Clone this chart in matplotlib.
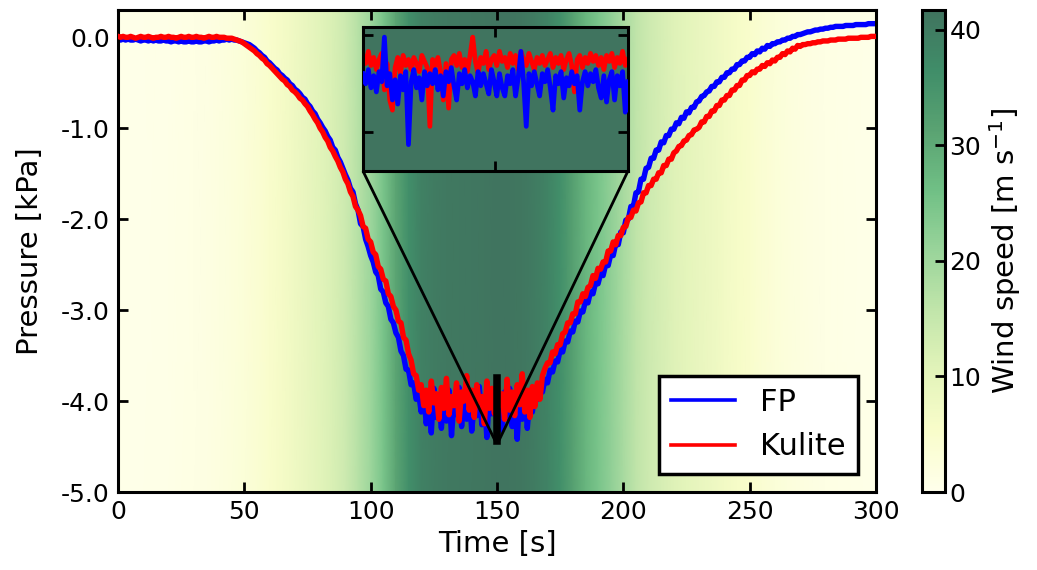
import numpy as np
import matplotlib.pyplot as plt
from matplotlib.colors import ListedColormap
from matplotlib.ticker import FormatStrFormatter
from mpl_toolkits.axes_grid1.inset_locator import mark_inset

plt.rcParams['axes.unicode_minus'] = False

# FP pressure [kPa], one value per second, t = 0..300 s
fp = [
    -0.02, -0.03, -0.02, -0.03, -0.02, -0.03, -0.03, -0.02, -0.03, -0.04,   # 0
    -0.03, -0.03, -0.04, -0.03, -0.04, -0.03, -0.04, -0.04, -0.03, -0.04,   # 10
    -0.04, -0.05, -0.04, -0.04, -0.05, -0.04, -0.05, -0.05, -0.04, -0.05,   # 20
    -0.05, -0.04, -0.05, -0.05, -0.04, -0.04, -0.05, -0.04, -0.04, -0.03,   # 30
    -0.04, -0.03, -0.03, -0.02, -0.03, -0.02, -0.03, -0.03, -0.04, -0.05,   # 40
    -0.06, -0.07, -0.08, -0.10, -0.12, -0.15, -0.17, -0.20, -0.22, -0.26,   # 50
    -0.28, -0.31, -0.34, -0.36, -0.40, -0.42, -0.45, -0.47, -0.51, -0.53,   # 60
    -0.57, -0.59, -0.62, -0.66, -0.68, -0.73, -0.76, -0.81, -0.84, -0.90,   # 70
    -0.94, -0.99, -1.03, -1.09, -1.13, -1.21, -1.24, -1.32, -1.37, -1.44,   # 80
    -1.51, -1.57, -1.66, -1.70, -1.83, -1.90, -2.05, -2.08, -2.22, -2.30,   # 90
    -2.40, -2.47, -2.58, -2.62, -2.77, -2.80, -2.92, -2.96, -3.10, -3.14,   # 100
    -3.25, -3.30, -3.45, -3.50, -3.65, -3.66, -3.82, -3.80, -3.98, -3.92,   # 110
    -4.12, -3.90, -4.25, -3.98, -4.35, -3.86, -4.18, -4.02, -4.30, -3.92,   # 120
    -4.22, -3.88, -4.38, -4.00, -4.15, -3.85, -4.28, -3.96, -4.20, -3.90,   # 130
    -4.33, -4.02, -4.16, -3.84, -4.26, -3.98, -4.40, -3.93, -4.14, -3.88,   # 140
    -4.24, -4.00, -4.32, -3.90, -4.18, -3.86, -4.28, -3.97, -4.42, -3.92,   # 150
    -4.20, -3.88, -4.30, -3.95, -4.12, -3.90, -3.98, -3.84, -3.90, -3.76,   # 160
    -3.80, -3.66, -3.68, -3.56, -3.57, -3.44, -3.46, -3.34, -3.35, -3.23,   # 170
    -3.24, -3.12, -3.13, -3.01, -3.02, -2.90, -2.92, -2.80, -2.82, -2.70,   # 180
    -2.71, -2.60, -2.62, -2.50, -2.51, -2.39, -2.40, -2.27, -2.28, -2.14,   # 190
    -2.15, -2.01, -2.00, -1.86, -1.86, -1.71, -1.70, -1.56, -1.56, -1.44,   # 200
    -1.43, -1.33, -1.33, -1.24, -1.24, -1.15, -1.16, -1.08, -1.08, -1.01,   # 210
    -1.01, -0.94, -0.95, -0.88, -0.89, -0.82, -0.83, -0.77, -0.77, -0.71,   # 220
    -0.70, -0.65, -0.64, -0.60, -0.59, -0.54, -0.54, -0.49, -0.49, -0.44,   # 230
    -0.44, -0.39, -0.39, -0.35, -0.35, -0.30, -0.30, -0.26, -0.26, -0.22,   # 240
    -0.22, -0.18, -0.19, -0.15, -0.16, -0.12, -0.13, -0.09, -0.10, -0.07,   # 250
    -0.07, -0.05, -0.05, -0.03, -0.03, -0.01, -0.01, 0.01, 0.01, 0.03,      # 260
    0.03, 0.04, 0.05, 0.06, 0.06, 0.07, 0.08, 0.08, 0.09, 0.09,             # 270
    0.10, 0.10, 0.11, 0.11, 0.12, 0.12, 0.12, 0.12, 0.13, 0.13,             # 280
    0.13, 0.13, 0.14, 0.14, 0.14, 0.14, 0.14, 0.15, 0.15, 0.15,             # 290
    0.15,                                                                   # 300
]

# Kulite pressure [kPa], one value per second, t = 0..300 s
kulite = [
    0.01, 0.00, 0.01, 0.00, 0.00, 0.01, 0.00, -0.01, 0.00, 0.01,            # 0
    0.00, 0.00, 0.01, 0.00, -0.01, 0.00, 0.00, 0.01, 0.00, 0.00,            # 10
    0.01, 0.00, 0.00, -0.01, 0.00, 0.01, 0.00, 0.00, 0.01, 0.00,            # 20
    0.00, 0.01, 0.00, 0.00, -0.01, 0.00, 0.01, 0.00, 0.00, 0.01,            # 30
    0.00, 0.00, 0.00, -0.01, -0.01, -0.01, -0.02, -0.03, -0.04, -0.05,      # 40
    -0.07, -0.09, -0.11, -0.13, -0.15, -0.18, -0.20, -0.23, -0.25, -0.29,   # 50
    -0.31, -0.34, -0.37, -0.40, -0.43, -0.46, -0.48, -0.52, -0.54, -0.58,   # 60
    -0.60, -0.63, -0.67, -0.69, -0.73, -0.76, -0.81, -0.85, -0.90, -0.94,   # 70
    -1.00, -1.04, -1.10, -1.14, -1.21, -1.25, -1.31, -1.36, -1.43, -1.48,   # 80
    -1.56, -1.61, -1.70, -1.75, -1.86, -1.90, -1.96, -2.08, -2.10, -2.22,   # 90
    -2.25, -2.36, -2.39, -2.52, -2.55, -2.66, -2.68, -2.82, -2.85, -2.96,   # 100
    -3.00, -3.12, -3.14, -3.30, -3.33, -3.48, -3.55, -3.70, -3.72, -3.88,   # 110
    -3.82, -4.05, -3.88, -4.12, -3.78, -4.02, -3.92, -4.20, -3.85, -4.08,   # 120
    -3.75, -4.15, -3.95, -4.05, -3.80, -4.22, -3.90, -4.00, -3.72, -4.10,   # 130
    -3.88, -4.18, -3.82, -4.02, -3.95, -4.25, -3.78, -4.08, -3.86, -4.14,   # 140
    -3.80, -4.05, -3.92, -4.20, -3.76, -4.10, -3.90, -4.16, -3.82, -4.04,   # 150
    -3.70, -4.12, -3.88, -4.18, -3.84, -4.06, -3.80, -3.98, -3.72, -3.64,   # 160
    -3.58, -3.58, -3.46, -3.48, -3.38, -3.38, -3.26, -3.24, -3.14, -3.14,   # 170
    -3.04, -3.04, -2.91, -2.91, -2.82, -2.85, -2.75, -2.73, -2.62, -2.65,   # 180
    -2.54, -2.55, -2.47, -2.47, -2.35, -2.35, -2.25, -2.28, -2.18, -2.18,   # 190
    -2.09, -2.08, -1.98, -1.98, -1.90, -1.91, -1.82, -1.81, -1.71, -1.71,   # 200
    -1.63, -1.63, -1.56, -1.56, -1.49, -1.49, -1.41, -1.41, -1.34, -1.34,   # 210
    -1.27, -1.25, -1.20, -1.19, -1.14, -1.13, -1.08, -1.07, -1.02, -1.01,   # 220
    -0.99, -0.93, -0.93, -0.87, -0.87, -0.81, -0.81, -0.75, -0.75, -0.69,   # 230
    -0.69, -0.64, -0.64, -0.58, -0.58, -0.53, -0.53, -0.47, -0.47, -0.42,   # 240
    -0.42, -0.38, -0.39, -0.35, -0.35, -0.31, -0.32, -0.28, -0.29, -0.25,   # 250
    -0.26, -0.22, -0.22, -0.18, -0.19, -0.15, -0.16, -0.12, -0.13, -0.09,   # 260
    -0.10, -0.08, -0.08, -0.07, -0.07, -0.06, -0.06, -0.05, -0.05, -0.04,   # 270
    -0.04, -0.04, -0.03, -0.03, -0.03, -0.02, -0.02, -0.02, -0.02, -0.01,   # 280
    -0.01, -0.01, -0.01, -0.01, 0.00, 0.00, 0.00, 0.00, 0.01, 0.01,         # 290
    0.01,                                                                   # 300
]

# wind speed [m/s] every 5 s, t = 0..300 s
wind_t = list(range(0, 301, 5))
wind = [0.5, 0.5, 0.6, 0.7, 0.8, 1.0, 1.2, 1.5, 2.0, 2.5,
        3.2, 4.0, 5.0, 6.2, 7.5, 9.0, 10.5, 12.0, 14.0, 17.0,
        20.5, 25.0, 31.0, 36.0, 39.0, 40.0, 40.5, 40.8, 41.0, 41.2,
        41.7, 41.3, 41.0, 40.0, 38.5, 36.0, 32.0, 28.0, 25.0, 22.0,
        19.0, 16.0, 14.0, 12.5, 11.0, 10.0, 9.0, 8.0, 7.0, 6.0,
        5.0, 4.0, 3.2, 2.5, 2.0, 1.5, 1.2, 1.0, 0.9, 0.8, 0.8]

# zoomed window around t = 150 s (100 samples between 149.5 and 150.5 s)
ins_fp = [
    -3.97, -4.02, -3.95, -4.04, -3.98, -4.06, -3.96, -4.01, -3.79, -4.03,
    -3.97, -4.10, -4.00, -4.12, -3.98, -4.05, -3.96, -4.32, -4.01, -3.95,
    -4.04, -3.99, -4.10, -3.96, -4.03, -3.97, -4.02, -3.95, -4.05, -3.98,
    -4.08, -3.96, -4.01, -3.94, -4.03, -4.10, -3.97, -4.02, -3.95, -4.04,
    -3.98, -4.01, -4.08, -3.96, -4.03, -3.97, -4.02, -4.07, -3.95, -4.01,
    -4.08, -3.97, -4.04, -4.08, -3.98, -4.02, -3.95, -4.08, -3.99, -3.86,
    -4.01, -4.23, -3.97, -4.03, -3.96, -4.02, -4.08, -3.97, -4.01, -3.95,
    -4.04, -4.15, -3.98, -4.02, -3.96, -4.09, -3.99, -4.03, -3.96, -4.02,
    -3.98, -4.15, -4.01, -3.96, -4.03, -3.97, -4.01, -3.95, -4.04, -4.09,
    -3.98, -4.11, -4.00, -3.96, -4.10, -3.98, -4.03, -3.96, -4.16, -4.01,
]
ins_kulite = [
    -3.88, -3.92, -3.86, -3.93, -3.89, -3.95, -3.90, -3.87, -4.05, -3.92,
    -4.10, -4.15, -3.94, -3.89, -3.97, -3.88, -3.93, -3.90, -3.95, -3.89,
    -3.92, -3.96, -3.88, -3.91, -3.94, -4.23, -3.90, -3.93, -3.89, -3.96,
    -4.10, -3.92, -4.14, -3.90, -3.88, -3.93, -3.87, -3.94, -3.90, -3.96,
    -3.88, -3.79, -3.91, -3.97, -3.89, -3.92, -3.86, -3.95, -3.90, -3.88,
    -3.93, -3.86, -3.91, -3.89, -3.94, -3.87, -3.92, -3.88, -3.95, -3.86,
    -3.90, -3.93, -3.87, -3.91, -3.95, -3.89, -3.92, -3.88, -3.93, -3.90,
    -3.87, -3.94, -3.89, -3.92, -3.88, -3.95, -3.90, -3.87, -3.93, -4.06,
    -3.90, -3.88, -3.94, -3.89, -3.92, -3.87, -3.91, -3.88, -3.93, -3.89,
    -3.95, -3.88, -3.91, -3.87, -3.94, -3.89, -3.92, -3.86, -3.93, -3.90,
]

time = np.arange(len(fp))
ins_t = np.linspace(149.5, 150.5, len(ins_fp))
ylo, yhi = -5.0, 0.3

# YlGn washed out a bit towards white (looks like alpha 0.75 on white)
base = plt.get_cmap('YlGn')(np.linspace(0, 1, 256))
base[:, :3] = 0.75 * base[:, :3] + 0.25
cmap = ListedColormap(base)

fig = plt.figure(figsize=(10.37, 5.70), dpi=100)
ax = fig.add_axes([0.1138, 0.1368, 0.7309, 0.8456])
cax = fig.add_axes([0.889, 0.1368, 0.022, 0.8456])

wind_grid = np.vstack([wind, wind])
mesh = ax.pcolormesh(wind_t, [ylo, yhi], wind_grid, shading='gouraud',
                     cmap=cmap, vmin=0, vmax=max(wind), zorder=0)

ax.plot(time, fp, color='blue', lw=3.9, label='FP', zorder=2)
ax.plot(time, kulite, color='red', lw=3.9, label='Kulite', zorder=3)

ax.set_xlim(0, 300)
ax.set_ylim(ylo, yhi)
ax.set_xticks([0, 50, 100, 150, 200, 250, 300])
ax.set_yticks([0, -1, -2, -3, -4, -5])
ax.yaxis.set_major_formatter(FormatStrFormatter('%.1f'))
ax.tick_params(direction='in', top=True, right=True, length=7, width=2,
               labelsize=18, pad=6)
for s in ax.spines.values():
    s.set_linewidth(2.2)
ax.set_xlabel('Time [s]', fontsize=21, labelpad=4)
ax.set_ylabel('Pressure [kPa]', fontsize=21, labelpad=12)

leg = ax.legend(loc='lower right', fontsize=22, fancybox=False, edgecolor='k',
                framealpha=1, handlelength=2.1, borderaxespad=0.6)
leg.get_frame().set_linewidth(2.5)
for ln in leg.get_lines():
    ln.set_linewidth(2.6)

# inset
axins = ax.inset_axes([0.3232, 0.666, 0.3496, 0.2988])
axins.pcolormesh(wind_t, [ylo, yhi], wind_grid, shading='gouraud',
                 cmap=cmap, vmin=0, vmax=max(wind), zorder=0)
axins.plot(ins_t, ins_kulite, color='red', lw=3.4, zorder=2)
axins.plot(ins_t, ins_fp, color='blue', lw=3.4, zorder=3)
axins.set_xlim(149.5, 150.5)
axins.set_ylim(-4.45, -3.74)
axins.set_xticks([150])
axins.set_yticks([-3.78, -4.26])
axins.tick_params(direction='in', top=True, right=True, length=7, width=2,
                  labelbottom=False, labelleft=False)
for s in axins.spines.values():
    s.set_linewidth(2.2)

pp, p1, p2 = mark_inset(ax, axins, loc1=3, loc2=4, fc='none', ec='k', lw=2)
pp.set_linewidth(4)
pp.set_zorder(4)

cb = fig.colorbar(mesh, cax=cax)
cb.set_ticks([0, 10, 20, 30, 40])
cb.ax.tick_params(direction='in', length=7, width=2, labelsize=18)
cb.outline.set_linewidth(2.2)
cb.set_label('Wind speed [m s$^{-1}$]', fontsize=21)

fig.savefig('out.png', dpi=100)
